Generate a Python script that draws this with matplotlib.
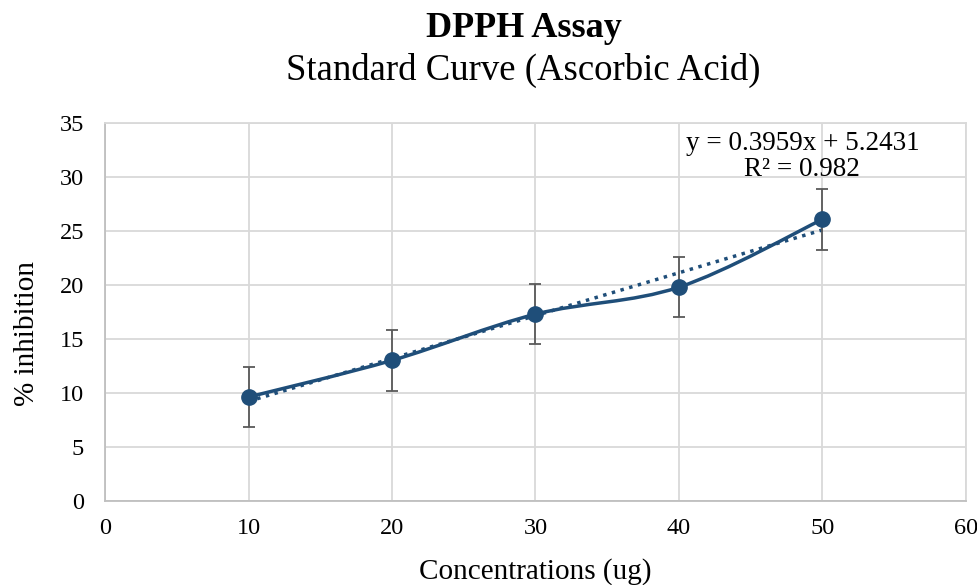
# DPPH Assay - standard curve for ascorbic acid
import numpy as np
import matplotlib
matplotlib.use('Agg')
import matplotlib.pyplot as plt
from matplotlib.path import Path
from matplotlib.patches import PathPatch

# Data
conc = [10, 20, 30, 40, 50]
inhibition = [9.63, 13.02, 17.3, 19.8, 26.08]
error = [2.8, 2.8, 2.8, 2.8, 2.8]
trend_label = 'y = 0.3959x + 5.2431\nR² = 0.982'

LINE_COLOR = '#1F4E79'
ERR_COLOR = '#595959'
GRID_COLOR = '#D9D9D9'

plt.rcParams['font.family'] = ['Liberation Serif', 'DejaVu Serif']


def smooth_path(xs, ys, tension=1/6):
    """Excel-like smoothed line as cubic Bezier segments (Catmull-Rom)."""
    pts = np.column_stack([xs, ys]).astype(float)
    verts = [pts[0]]
    codes = [Path.MOVETO]
    n = len(pts)
    for i in range(n - 1):
        p0 = pts[i - 1] if i > 0 else pts[i]
        p1 = pts[i]
        p2 = pts[i + 1]
        p3 = pts[i + 2] if i + 2 < n else pts[i + 1]
        c1 = p1 + (p2 - p0) * tension
        c2 = p2 - (p3 - p1) * tension
        verts += [c1, c2, p2]
        codes += [Path.CURVE4] * 3
    return Path(verts, codes)


fig = plt.figure(figsize=(9.77, 5.85), dpi=100)
ax = fig.add_axes([0.1075, 0.1436, 0.8812, 0.6461])

# smoothed series line
ax.add_patch(PathPatch(smooth_path(conc, inhibition), facecolor='none',
                       edgecolor=LINE_COLOR, linewidth=2.5, zorder=3))

# error bars + markers
ax.errorbar(conc, inhibition, yerr=error, fmt='none', ecolor=ERR_COLOR,
            elinewidth=1.3, capsize=4.5, capthick=1.3, zorder=4)
ax.plot(conc, inhibition, 'o', color=LINE_COLOR, markersize=11, zorder=5)

# linear trendline
slope, intercept = np.polyfit(conc, inhibition, 1)
tx = np.array([conc[0], conc[-1]])
ax.plot(tx, slope * tx + intercept, linestyle=(0, (1, 1.6)), color=LINE_COLOR,
        linewidth=2.5, zorder=2)
ax.text(48.6, 31.9, trend_label, ha='center', va='center', fontsize=19.5,
        linespacing=1.05, zorder=6)

ax.set_xlim(0, 60)
ax.set_ylim(0, 35)
ax.set_xticks(range(0, 61, 10))
ax.set_yticks(range(0, 36, 5))
ax.tick_params(length=0, labelsize=17.5)
ax.tick_params(axis='x', pad=12)
ax.tick_params(axis='y', pad=15)
ax.grid(True, color=GRID_COLOR, linewidth=1.3)
ax.set_axisbelow(True)
for side in ['top', 'right']:
    ax.spines[side].set_color(GRID_COLOR)
for side in ['left', 'bottom']:
    ax.spines[side].set_color('#BFBFBF')
for sp in ax.spines.values():
    sp.set_linewidth(1.3)

ax.set_xlabel('Concentrations (ug)', fontsize=21)
ax.xaxis.set_label_coords(0.5, -0.151)
ax.set_ylabel('% inhibition', fontsize=21)
ax.yaxis.set_label_coords(-0.0755, 0.444)

fig.text(0.536, 0.952, 'DPPH Assay', ha='center', va='center',
         fontsize=26, fontweight='bold')
fig.text(0.536, 0.880, 'Standard Curve (Ascorbic Acid)', ha='center',
         va='center', fontsize=26.5)

fig.savefig('out.png', dpi=100)
